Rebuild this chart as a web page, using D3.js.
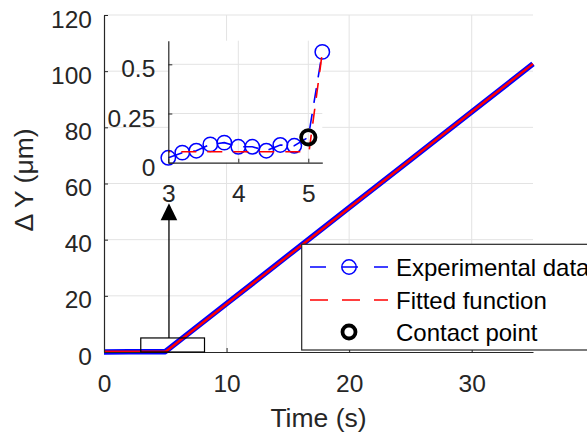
<!DOCTYPE html>
<html><head><meta charset="utf-8">
<script src="https://cdn.jsdelivr.net/npm/d3@7"></script>
<style>
body{margin:0;background:#fff;overflow:hidden}
svg{display:block}
text{font-family:"Liberation Sans",Arial,Helvetica,sans-serif}
</style>
</head><body><svg id="c" width="587" height="436"></svg>
<script>
// ---------- data ----------
const mainTime = [0, 2, 4, 5, 10, 15, 20, 25, 30, 35];
const mainExp  = [0.03, 0.07, 0.08, 0.13, 17.2, 34.3, 51.4, 68.4, 85.5, 102.6];
const fitTime  = [0, 5.02, 35];
const fitVal   = [0.056, 0.056, 102.6];

const insetTime = [3.0, 3.2, 3.4, 3.6, 3.8, 4.0, 4.2, 4.4, 4.6, 4.8, 5.0, 5.2];
const insetExp  = [0.025, 0.051, 0.061, 0.093, 0.102, 0.081, 0.081, 0.061, 0.090, 0.086, 0.129, 0.563];
const insetFitTime = [3.0, 5.01, 5.2];
const insetFitVal  = [0.056, 0.056, 0.56];
const contactTime = [5.0];
const contactVal  = [0.129];

const xTicks = [0, 10, 20, 30];
const yTicks = [0, 20, 40, 60, 80, 100, 120];
const insetXTicks = [3, 4, 5];
const insetYTicks = [0, 0.25, 0.5];
const insetYLabels = ["0", "0.25", "0.5"];

const zoomRectX = [3, 8.2];
const zoomRectY = [0, 5];
const arrowX = 5.3;
const arrowY = [5, 53];

const legendLabels = ["Experimental data", "Fitted function", "Contact point"];
const xLabel = "Time (s)";
const yLabel = "\u0394 Y (\u03bcm)";

// ---------- setup ----------
const svg = d3.select("#c");
const axisCol = "#262626", gridCol = "#e3e3e3";
const tickFont = 24.5, labelFont = 26.5, legendFont = 24;

const x = d3.scaleLinear().domain([0, 35]).range([104, 533]);
const y = d3.scaleLinear().domain([0, 120]).range([352, 15]);

// grid
const g = svg.append("g");
g.selectAll(".vg").data(xTicks.filter(d => d > 0)).join("line")
  .attr("x1", d => x(d)).attr("x2", d => x(d)).attr("y1", y(0)).attr("y2", y(120))
  .attr("stroke", gridCol).attr("stroke-width", 1);
g.selectAll(".hg").data(yTicks.filter(d => d > 0)).join("line")
  .attr("x1", x(0)).attr("x2", x(35)).attr("y1", d => y(d)).attr("y2", d => y(d))
  .attr("stroke", gridCol).attr("stroke-width", 1);

// main lines
const lineMain = d3.line().x(d => x(d[0])).y(d => y(d[1]));
svg.append("path").datum(mainTime.map((t, i) => [t, mainExp[i]]))
  .attr("d", lineMain).attr("fill", "none").attr("stroke", "#0000ff")
  .attr("stroke-width", 5.5).attr("stroke-linejoin", "round");
svg.append("path").datum(fitTime.map((t, i) => [t, fitVal[i]]))
  .attr("d", lineMain).attr("fill", "none").attr("stroke", "#ff0000")
  .attr("stroke-width", 2.5).attr("stroke-linejoin", "round");

// axes
const xAxis = svg.append("g").attr("transform", `translate(0,${y(0)})`)
  .call(d3.axisBottom(x).tickValues(xTicks).tickSize(-4).tickSizeOuter(0).tickFormat(d3.format("d")));
const yAxis = svg.append("g").attr("transform", `translate(${x(0)},0)`)
  .call(d3.axisLeft(y).tickValues(yTicks).tickSize(-4).tickSizeOuter(0).tickFormat(d3.format("d")));
[xAxis, yAxis].forEach(a => {
  a.attr("font-family", null).attr("font-size", null);
  a.select(".domain").attr("stroke", axisCol).attr("stroke-width", 1.2);
  a.selectAll(".tick line").attr("stroke", axisCol).attr("stroke-width", 1);
  a.selectAll("text").attr("fill", axisCol).style("font-size", tickFont + "px");
});
xAxis.selectAll("text").attr("y", 40).attr("dy", null);
yAxis.selectAll("text").attr("x", -12).attr("dy", null).attr("y", 12);

// zoom rectangle and arrow
svg.append("rect").attr("x", x(zoomRectX[0])).attr("y", y(zoomRectY[1]))
  .attr("width", x(zoomRectX[1]) - x(zoomRectX[0])).attr("height", y(zoomRectY[0]) - y(zoomRectY[1]))
  .attr("fill", "none").attr("stroke", "#000").attr("stroke-width", 1.2);
const tipY = y(arrowY[1]);
svg.append("line").attr("x1", x(arrowX)).attr("x2", x(arrowX))
  .attr("y1", y(arrowY[0])).attr("y2", tipY + 15)
  .attr("stroke", "#000").attr("stroke-width", 1.3);
svg.append("path")
  .attr("d", `M${x(arrowX)},${tipY} L${x(arrowX) - 8.3},${tipY + 17} L${x(arrowX) + 8.3},${tipY + 17} Z`)
  .attr("fill", "#000");

// axis labels
svg.append("text").attr("x", (x(0) + x(35)) / 2).attr("y", 427)
  .attr("text-anchor", "middle").attr("fill", axisCol).style("font-size", labelFont + "px").text(xLabel);
svg.append("text").attr("transform", "translate(33,180) rotate(-90)")
  .attr("text-anchor", "middle").attr("fill", axisCol).style("font-size", labelFont + "px").text(yLabel);

// ---------- inset ----------
const ix = d3.scaleLinear().domain([3, 5.2]).range([168.3, 322.3]);
const iy = d3.scaleLinear().domain([0, 0.62]).range([162.7, 40.7]);
const ins = svg.append("g");
ins.append("rect").attr("x", ix(3)).attr("y", iy(0.62)).attr("width", ix(5.2) - ix(3))
  .attr("height", iy(0) - iy(0.62)).attr("fill", "#fff");
ins.selectAll(".ivg").data(insetXTicks.filter(d => d > 3)).join("line")
  .attr("x1", d => ix(d)).attr("x2", d => ix(d)).attr("y1", iy(0)).attr("y2", iy(0.62))
  .attr("stroke", gridCol).attr("stroke-width", 1);
ins.selectAll(".ihg").data(insetYTicks.filter(d => d > 0)).join("line")
  .attr("x1", ix(3)).attr("x2", ix(5.2)).attr("y1", d => iy(d)).attr("y2", d => iy(d))
  .attr("stroke", gridCol).attr("stroke-width", 1);

const lineIn = d3.line().x(d => ix(d[0])).y(d => iy(d[1]));
const expPts = insetTime.map((t, i) => [t, insetExp[i]]);
ins.append("path").datum(expPts).attr("d", lineIn).attr("fill", "none")
  .attr("stroke", "#0000ff").attr("stroke-width", 1.6).attr("stroke-dasharray", "15,11");
ins.selectAll(".mk").data(expPts).join("circle")
  .attr("cx", d => ix(d[0])).attr("cy", d => iy(d[1])).attr("r", 7.2)
  .attr("fill", "none").attr("stroke", "#0000ff").attr("stroke-width", 1.5);
ins.append("path").datum(insetFitTime.map((t, i) => [t, insetFitVal[i]])).attr("d", lineIn)
  .attr("fill", "none").attr("stroke", "#ff0000").attr("stroke-width", 1.6)
  .attr("stroke-dasharray", "15,11").attr("stroke-dashoffset", 13);
ins.selectAll(".cp").data(contactTime.map((t, i) => [t, contactVal[i]])).join("circle")
  .attr("cx", d => ix(d[0])).attr("cy", d => iy(d[1])).attr("r", 7.2)
  .attr("fill", "none").attr("stroke", "#000").attr("stroke-width", 3.8);

const ixAxis = ins.append("g").attr("transform", `translate(0,${iy(0)})`)
  .call(d3.axisBottom(ix).tickValues(insetXTicks).tickSize(-4).tickSizeOuter(0).tickFormat(d3.format("d")));
const iyAxis = ins.append("g").attr("transform", `translate(${ix(3)},0)`)
  .call(d3.axisLeft(iy).tickValues(insetYTicks).tickSize(-4).tickSizeOuter(0)
    .tickFormat((d, i) => insetYLabels[i]));
[ixAxis, iyAxis].forEach(a => {
  a.attr("font-family", null).attr("font-size", null);
  a.select(".domain").attr("stroke", axisCol).attr("stroke-width", 1.2);
  a.selectAll(".tick line").attr("stroke", axisCol).attr("stroke-width", 1);
  a.selectAll("text").attr("fill", axisCol).style("font-size", tickFont + "px");
});
ixAxis.selectAll("text").attr("y", 39.5).attr("dy", null);
iyAxis.selectAll("text").attr("x", -13).attr("dy", null).attr("y", 12.5);

// ---------- legend ----------
const leg = svg.append("g");
leg.append("rect").attr("x", 301.7).attr("y", 244.3).attr("width", 310).attr("height", 105.7)
  .attr("fill", "#fff").attr("stroke", axisCol).attr("stroke-width", 1.2);
const rowY = [267, 300, 332];
leg.append("line").attr("x1", 310).attr("x2", 388).attr("y1", rowY[0]).attr("y2", rowY[0])
  .attr("stroke", "#0000ff").attr("stroke-width", 1.6).attr("stroke-dasharray", "16,16");
leg.append("circle").attr("cx", 349).attr("cy", rowY[0]).attr("r", 7.2)
  .attr("fill", "none").attr("stroke", "#0000ff").attr("stroke-width", 1.5);
leg.append("line").attr("x1", 310).attr("x2", 388).attr("y1", rowY[1]).attr("y2", rowY[1])
  .attr("stroke", "#ff0000").attr("stroke-width", 1.6).attr("stroke-dasharray", "18,14");
leg.append("circle").attr("cx", 349).attr("cy", rowY[2]).attr("r", 6.5)
  .attr("fill", "none").attr("stroke", "#000").attr("stroke-width", 3.8);
leg.selectAll(".lt").data(legendLabels).join("text")
  .attr("x", 396).attr("y", (d, i) => rowY[i] + 8.5)
  .attr("fill", "#000").style("font-size", legendFont + "px").text(d => d);
</script>
</body></html>
